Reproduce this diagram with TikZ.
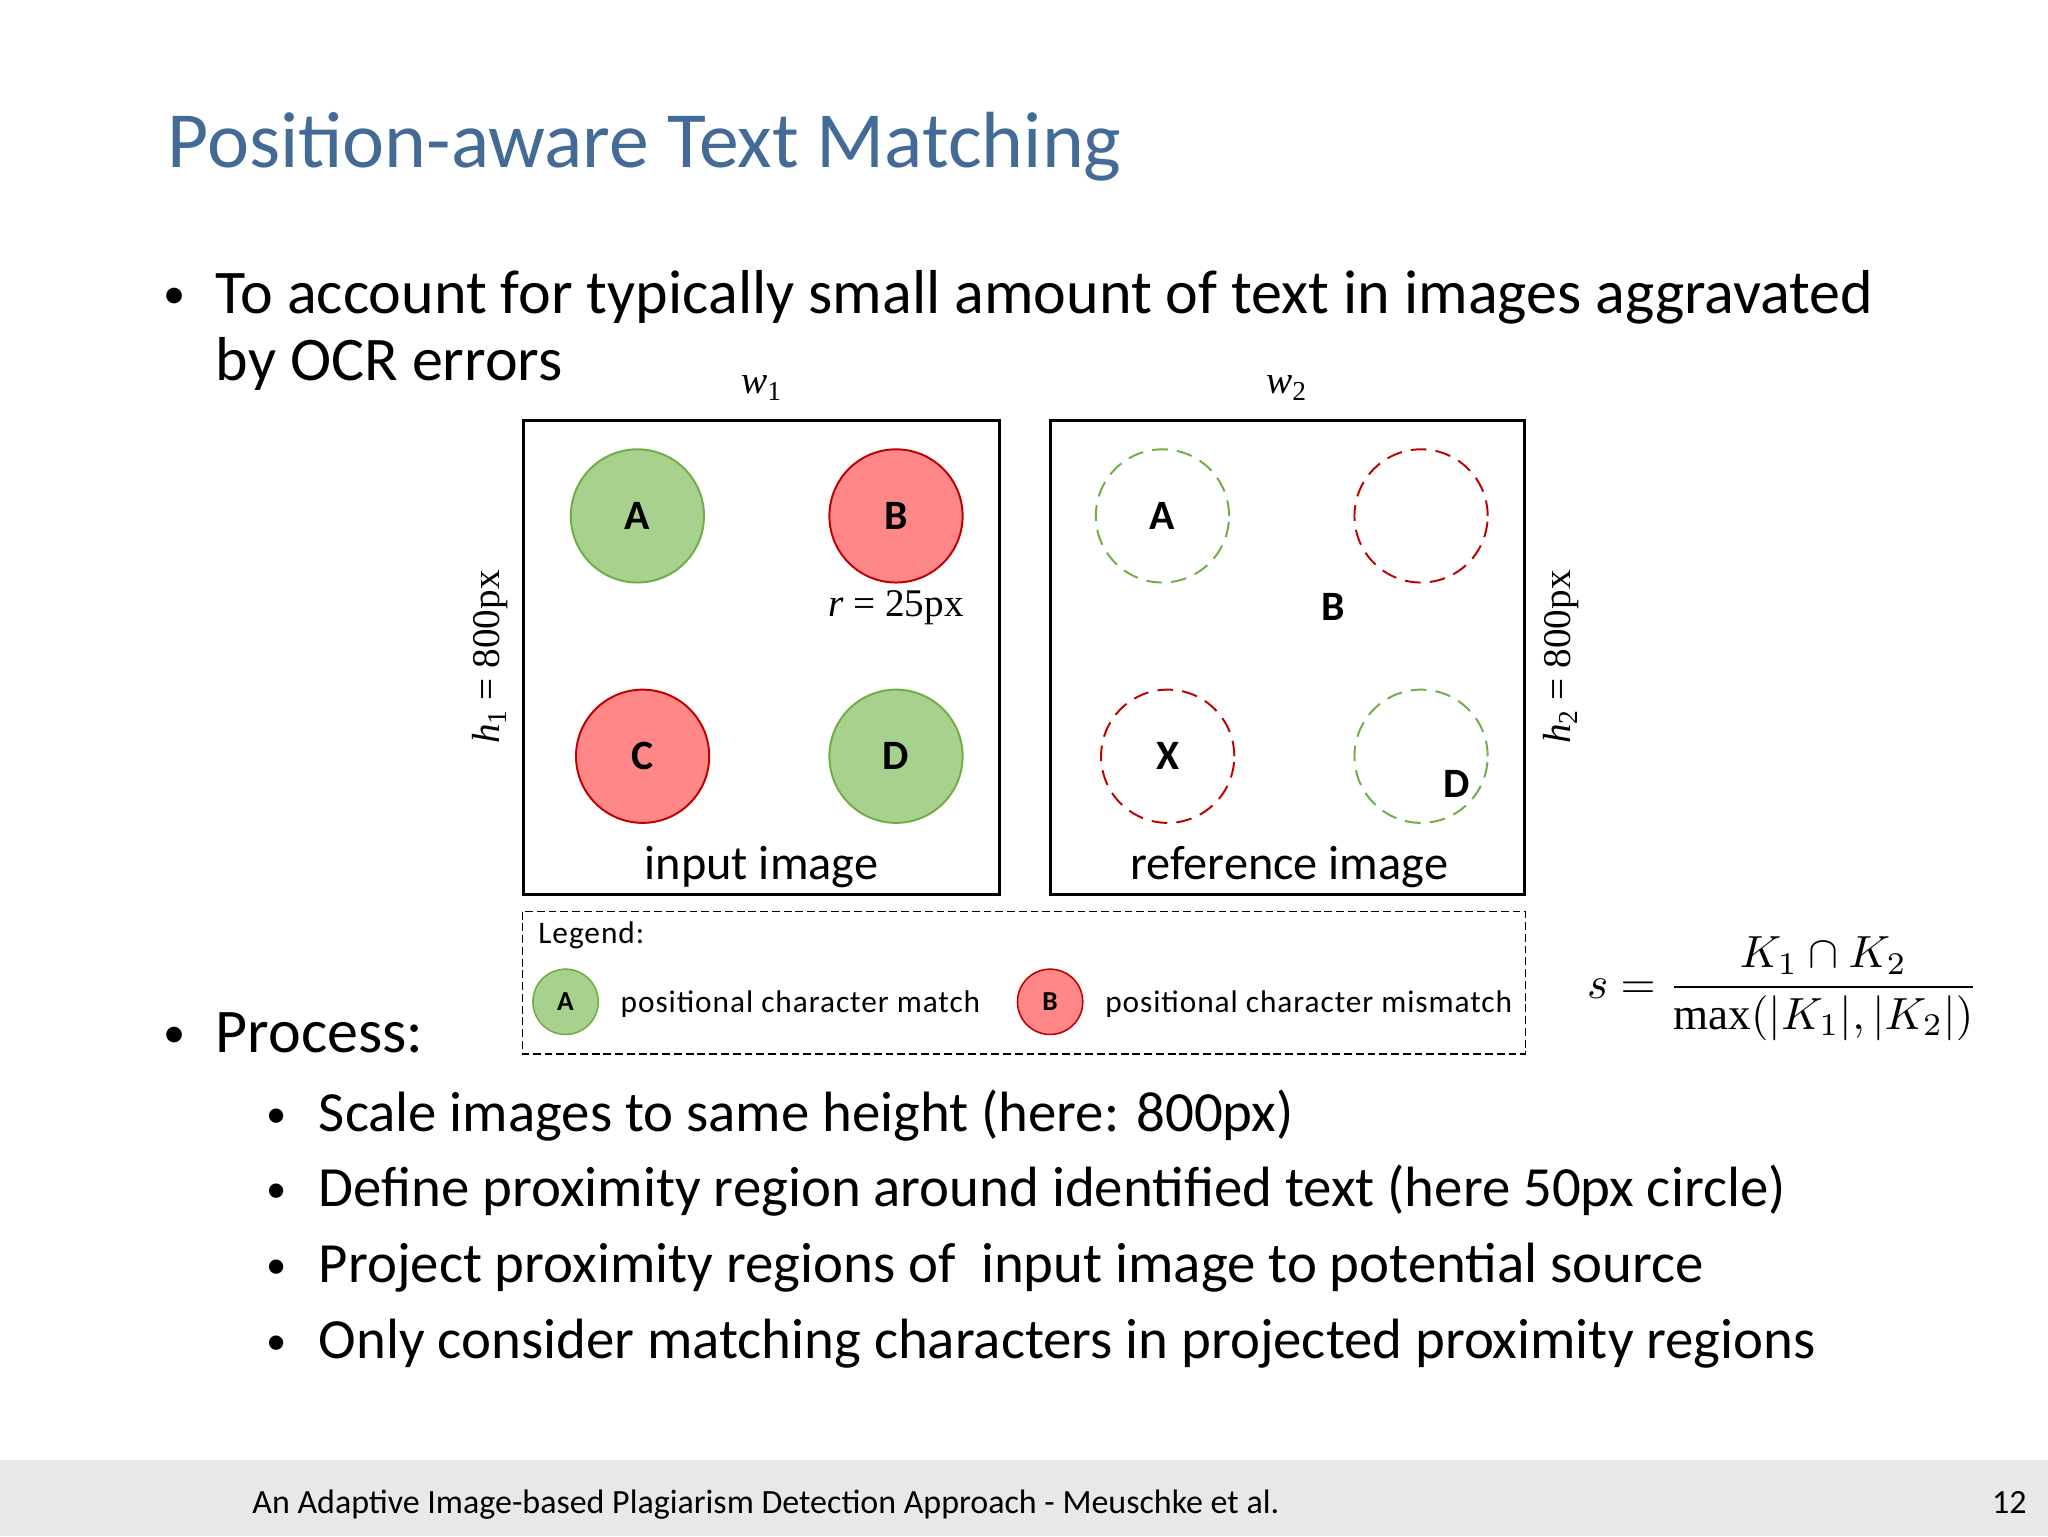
\documentclass[tikz,border=0pt]{standalone}
\usepackage{amsmath}
\usepackage{fontspec}
\setmainfont{Carlito}
\newfontfamily\tms{Liberation Serif}
\definecolor{titleblue}{RGB}{68,106,150}
\definecolor{gfill}{RGB}{169,209,142}
\definecolor{gline}{RGB}{112,173,71}
\definecolor{rfill}{RGB}{255,135,135}
\definecolor{rline}{RGB}{192,0,0}
\definecolor{footgray}{RGB}{232,232,232}
\newcommand{\fs}[1]{\fontsize{#1}{#1}\selectfont}
\tikzset{
 img/.style={draw,line width=2.2pt},
 gcirc/.style={circle,draw=gline,fill=gfill,line width=1.5pt,minimum size=102pt,inner sep=0,font=\fs{32}\bfseries},
 rcirc/.style={circle,draw=rline,fill=rfill,line width=1.5pt,minimum size=102pt,inner sep=0,font=\fs{32}\bfseries},
 gdash/.style={circle,draw=gline,dashed,dash pattern=on 12pt off 7pt,line width=1.5pt,minimum size=102pt,inner sep=0,font=\fs{32}\bfseries},
 rdash/.style={circle,draw=rline,dashed,dash pattern=on 12pt off 7pt,line width=1.5pt,minimum size=102pt,inner sep=0,font=\fs{32}\bfseries},
 lg/.style={circle,draw=gline,fill=gfill,line width=1.2pt,minimum size=50pt,inner sep=0,font=\fs{21}\bfseries},
 lr/.style={circle,draw=rline,fill=rfill,line width=1.2pt,minimum size=50pt,inner sep=0,font=\fs{21}\bfseries},
 txt/.style={inner sep=0,anchor=base west},
 lbl/.style={font=\fs{30}\tms},
}
\begin{document}
\begin{tikzpicture}[x=1pt,y=-1pt]
\useasboundingbox (0,0) rectangle (1568,1176);
\fill[white] (0,0) rectangle (1568,1176);
\fill[footgray] (0,1118) rectangle (1568,1176);
\node[txt,text=titleblue,font=\fs{61}] (title) at (128,128) {Position-aware Text Matching};
\node[txt,font=\fs{34}] (b1) at (125,236) {•};
\node[txt,font=\fs{47.5}] (t1) at (165,240) {To account for typically small amount of text in images aggravated};
\node[txt,font=\fs{47.5}] (t1b) at (165,291) {by OCR errors};
% boxes
\draw[img] (401,322) rectangle (765,685);
\draw[img] (804,322) rectangle (1167,685);
\node[gcirc] (lA) at (488,395) {A};
\node[rcirc] (lB) at (686,395) {B};
\node[rcirc] (lC) at (492,579) {C};
\node[gcirc] (lD) at (686,579) {D};
\node[gdash] (rA) at (890,395) {A};
\node[rdash] (rB) at (1088,395) {};
\node[rdash] (rX) at (894,579) {X};
\node[gdash] (rD) at (1088,579) {};
\node[font=\fs{32}\bfseries] (Bl) at (1021,465) {B};
\node[font=\fs{32}\bfseries] (Dl) at (1115,600) {D};
\node[lbl] (r) at (686,465) {\itshape r\upshape\ = 25px};
\node[lbl] (w1) at (583,297) {\itshape w\textsubscript{\upshape 1}};
\node[lbl] (w2) at (985,297) {\itshape w\textsubscript{\upshape 2}};
\node[lbl,rotate=90] (h1) at (375,503) {\itshape h\textsubscript{\upshape 1}\upshape\ = 800px};
\node[lbl,rotate=90] (h2) at (1195,503) {\itshape h\textsubscript{\upshape 2}\upshape\ = 800px};
\node[font=\fs{37}] (ii) at (583,664) {input image};
\node[font=\fs{37}] (ri) at (987,664) {reference image};
% legend
\draw[dash pattern=on 6pt off 3pt,line width=1pt] (400,698) rectangle (1168,807);
\node[txt,font=\fs{24}] (leg) at (412,722) {\addfontfeature{LetterSpace=3}Legend:};
\node[lg] (la) at (433,767) {A};
\node[txt,font=\fs{24}] (lat) at (475,775) {\addfontfeature{LetterSpace=3}positional character match};
\node[lr] (lb) at (804,767) {B};
\node[txt,font=\fs{24}] (lbt) at (846,775) {\addfontfeature{LetterSpace=3}positional character mismatch};
% formula
\node (f) at (1365,757) {\scalebox{3.45}{$s=\dfrac{K_1\cap K_2}{\text{\tms max}(|K_1|,|K_2|)}$}};
% process
\node[txt,font=\fs{34}] (b2) at (125,802) {•};
\node[txt,font=\fs{47.5}] (t2) at (165,806) {Process:};
\foreach \yy/\tt in {866/{Scale images to same height (here: 800px)},924/{Define proximity region around identified text (here 50px circle)},982/{Project proximity regions of\ \ input image to potential source},1040/{Only consider matching characters in projected proximity regions}}{
 \node[txt,font=\fs{31}] at (204,\yy-3) {•};
 \node[txt,font=\fs{43.5}] at (244,\yy) {\tt};
}
\node[txt,font=\fs{26}] (foot) at (193,1159) {An Adaptive Image-based Plagiarism Detection Approach - Meuschke et al.};
\node[txt,font=\fs{26}] (pg) at (1525,1159) {12};
\end{tikzpicture}
\end{document}
